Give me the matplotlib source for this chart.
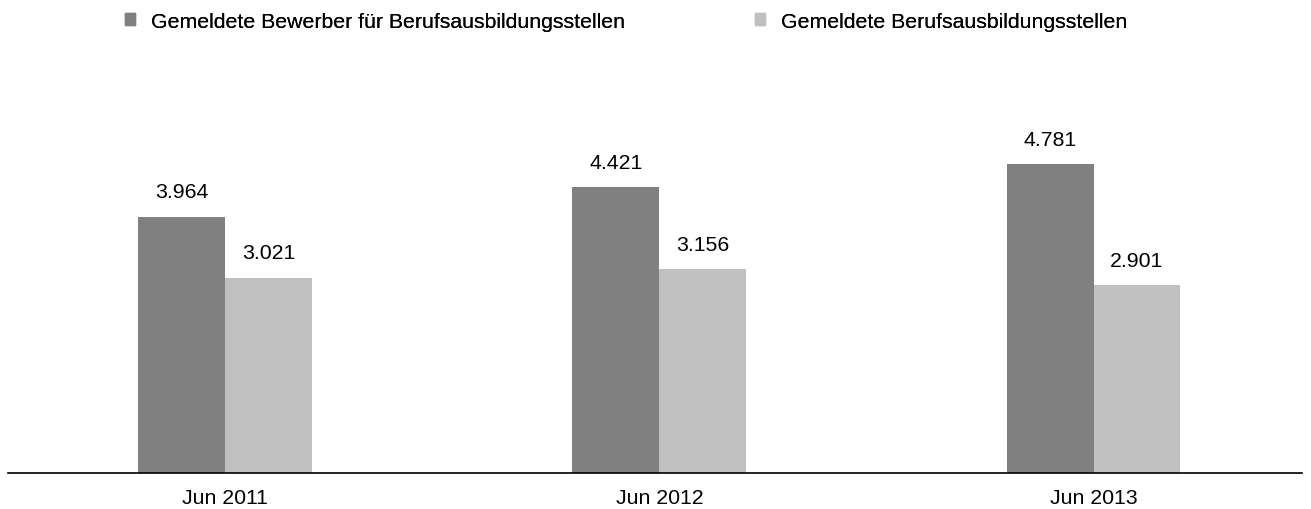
import numpy as np
import matplotlib.pyplot as plt
from matplotlib.patches import Patch

plt.rcParams['font.family'] = ['Liberation Sans', 'DejaVu Sans']

# Daten
categories = ["Jun 2011", "Jun 2012", "Jun 2013"]
series_names = ["Gemeldete Bewerber für Berufsausbildungsstellen",
                "Gemeldete Berufsausbildungsstellen"]
bewerber = [3.964, 4.421, 4.781]
stellen = [3.021, 3.156, 2.901]

dark = "#808080"
light = "#c0c0c0"
fs = 15.3

fig = plt.figure(figsize=(13.11, 5.10), dpi=100)
ax = fig.add_axes([8 / 1311, 1 - 474 / 510, (1302 - 8) / 1311, (474 - 86) / 510])

x = np.arange(len(categories))
w = 0.2
b1 = ax.bar(x - w / 2, bewerber, w, color=dark)
b2 = ax.bar(x + w / 2, stellen, w, color=light)

for bars, vals in ((b1, bewerber), (b2, stellen)):
    for b, v in zip(bars, vals):
        ax.annotate(f"{v:.3f}", (b.get_x() + b.get_width() / 2, v),
                    xytext=(0, 11), textcoords="offset points",
                    ha="center", va="bottom", fontsize=fs)

ax.set_xlim(-0.5, 2.48)
ax.set_ylim(0, 6)
ax.set_xticks(x)
ax.set_xticklabels(categories, fontsize=fs)
ax.tick_params(axis="x", length=0, pad=11)
ax.set_yticks([])
for s in ("top", "right", "left"):
    ax.spines[s].set_visible(False)
ax.spines["bottom"].set_linewidth(1.2)

# zwei Legenden-Einträge an festen Positionen
leg_x = [125 / 1311, 755 / 1311]
for col, name, lx in zip((dark, light), series_names, leg_x):
    lg = fig.legend([Patch(color=col)], [name], loc="center left",
                    bbox_to_anchor=(lx, 1 - 22 / 510), frameon=False,
                    fontsize=fs, handlelength=0.48, handleheight=0.48,
                    handletextpad=0.75, borderpad=0, borderaxespad=0)
    fig.add_artist(lg)

plt.savefig("out.png")
